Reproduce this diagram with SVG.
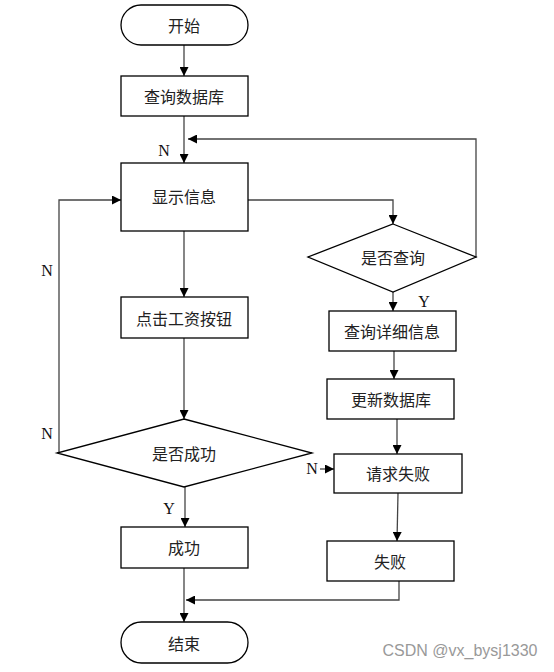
<svg xmlns="http://www.w3.org/2000/svg" width="554" height="672" viewBox="0 0 554 672">
<style>
.b{fill:#fff;stroke:#000;stroke-width:1.3}
.t{font-family:"Noto Sans CJK SC",sans-serif;font-size:16px;fill:#222;text-anchor:middle;dominant-baseline:central}
.l{font-family:"Liberation Serif",serif;font-size:16px;fill:#111;text-anchor:middle;dominant-baseline:central}
.c{fill:none;stroke:#444;stroke-width:1.3}
</style>
<defs>
<marker id="a" viewBox="0 0 10 10" refX="10" refY="5" markerWidth="9" markerHeight="9" markerUnits="userSpaceOnUse" orient="auto"><path d="M0,0L10,5L0,10z" fill="#000"/></marker>
</defs>
<rect width="554" height="672" fill="#fff"/>
<g id="connectors">
<path class="c" d="M184,45V76" marker-end="url(#a)"/>
<path class="c" d="M184,116V163" marker-end="url(#a)"/>
<path class="c" d="M308,257H476V139H188" marker-end="url(#a)"/>
<path class="c" d="M248,200H393V224" marker-end="url(#a)"/>
<path class="c" d="M393,292V311" marker-end="url(#a)"/>
<path class="c" d="M394,351V379" marker-end="url(#a)"/>
<path class="c" d="M397,419V454" marker-end="url(#a)"/>
<path class="c" d="M398,493L397,541" marker-end="url(#a)"/>
<path class="c" d="M399,581V600H186" marker-end="url(#a)"/>
<path class="c" d="M184,231V297" marker-end="url(#a)"/>
<path class="c" d="M184,338V419" marker-end="url(#a)"/>
<path class="c" d="M185,487V527" marker-end="url(#a)"/>
<path class="c" d="M184,568V622" marker-end="url(#a)"/>
<path class="c" d="M59,453V200H121" marker-end="url(#a)"/>
<path class="c" d="M320,469H334" marker-end="url(#a)"/>
<text class="l" x="164" y="150">N</text>
<text class="l" x="424" y="301">Y</text>
<text class="l" x="47" y="270">N</text>
<text class="l" x="47" y="433">N</text>
<text class="l" x="312" y="468">N</text>
<text class="l" x="169" y="508">Y</text>
</g>
<g id="start"><rect class="b" x="121" y="5" width="127" height="40" rx="20"/><text class="t" x="184" y="25">开始</text></g>
<g id="query-db"><rect class="b" x="121" y="76" width="127" height="40"/><text class="t" x="184" y="96">查询数据库</text></g>
<g id="show-info"><rect class="b" x="121" y="163" width="127" height="68"/><text class="t" x="184" y="196">显示信息</text></g>
<g id="is-query"><path class="b" d="M393,224L476,257L393,292L308,257Z"/><text class="t" x="393" y="257">是否查询</text></g>
<g id="query-detail"><rect class="b" x="329" y="311" width="127" height="40"/><text class="t" x="392" y="331">查询详细信息</text></g>
<g id="update-db"><rect class="b" x="327" y="379" width="127" height="40"/><text class="t" x="391" y="399">更新数据库</text></g>
<g id="click-salary"><rect class="b" x="121" y="297" width="127" height="41"/><text class="t" x="184" y="318">点击工资按钮</text></g>
<g id="is-success"><path class="b" d="M184,419L312,453L184,487L57,453Z"/><text class="t" x="184" y="453">是否成功</text></g>
<g id="request-fail"><rect class="b" x="334" y="454" width="128" height="39"/><text class="t" x="398" y="473">请求失败</text></g>
<g id="success"><rect class="b" x="121" y="527" width="127" height="41"/><text class="t" x="184" y="547">成功</text></g>
<g id="fail"><rect class="b" x="327" y="541" width="127" height="40"/><text class="t" x="390" y="561">失败</text></g>
<g id="end"><rect class="b" x="121" y="622" width="127" height="41" rx="20.5"/><text class="t" x="184" y="643">结束</text></g>
<text x="460" y="656" font-family="Liberation Sans,sans-serif" font-size="16" fill="#999" text-anchor="middle">CSDN @vx_bysj1330</text>
</svg>
